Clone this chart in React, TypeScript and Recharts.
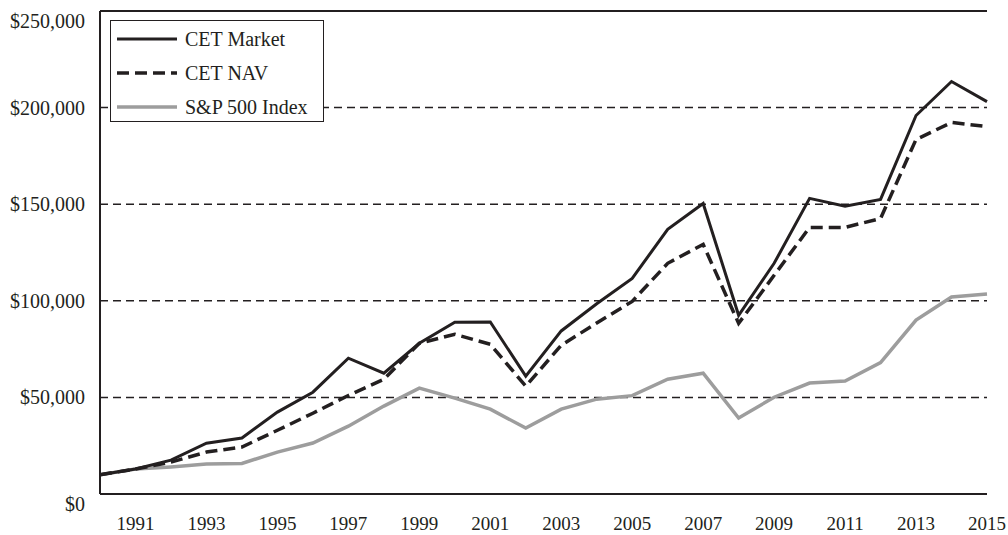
import { LineChart, Line, XAxis, YAxis, ReferenceLine } from "recharts";

const years = [
  1990, 1991, 1992, 1993, 1994, 1995, 1996, 1997, 1998, 1999, 2000, 2001, 2002,
  2003, 2004, 2005, 2006, 2007, 2008, 2009, 2010, 2011, 2012, 2013, 2014, 2015,
];

const cetMarket = [
  10000, 12900, 17500, 26300, 29000, 42400, 52700, 70300, 62500, 78000, 88900,
  89000, 61000, 84400, 98500, 111600, 137000, 150400, 92500, 119400, 153000,
  149000, 152500, 195900, 213500, 203100,
];

const cetNav = [
  10000, 12900, 16500, 21700, 24300, 33000, 41800, 51000, 59400, 78000, 82700,
  77500, 55800, 77000, 88500, 99700, 119400, 129200, 88300, 113200, 138000,
  138000, 142600, 183500, 192300, 190200,
];

const sp500 = [
  10000, 12900, 14000, 15500, 15800, 21700, 26400, 35100, 45500, 54800, 49600,
  43900, 34100, 43900, 49100, 50900, 59400, 62500, 39300, 50100, 57400, 58500,
  68000, 90000, 102000, 103500,
];

const xTicks = [1991, 1993, 1995, 1997, 1999, 2001, 2003, 2005, 2007, 2009, 2011, 2013, 2015];
const yTicks = [0, 50000, 100000, 150000, 200000, 250000];
const gridValues = [50000, 100000, 150000, 200000];

const seriesNames = ["CET Market", "CET NAV", "S&P 500 Index"];

const INK = "#231f20";
const GRAY = "#9d9d9d";
const FONT = "'Liberation Serif', 'Times New Roman', serif";

const data = years.map((y, i) => ({
  year: y,
  market: cetMarket[i],
  nav: cetNav[i],
  sp: sp500[i],
}));

const fmt = (v: number) => "$" + v.toLocaleString("en-US");

function YTick(props: any) {
  const { x, y, payload } = props;
  // end labels sit a little lower than their lines in the original
  const shift = payload.value === 0 || payload.value === 250000 ? 10 : 0;
  return (
    <text
      x={x - 7}
      y={y + shift}
      textAnchor="end"
      dominantBaseline="central"
      fontFamily={FONT}
      fontSize={20}
      fill={INK}
    >
      {fmt(payload.value)}
    </text>
  );
}

function XTick(props: any) {
  const { x, y, payload } = props;
  return (
    <text
      x={x}
      y={y + 21}
      textAnchor="middle"
      dominantBaseline="central"
      fontFamily={FONT}
      fontSize={19}
      fill={INK}
    >
      {payload.value}
    </text>
  );
}

function LegendBox() {
  const rows = [
    { name: seriesNames[0], color: INK, dash: undefined, w: 3 },
    { name: seriesNames[1], color: INK, dash: "12 6", w: 3.5 },
    { name: seriesNames[2], color: GRAY, dash: undefined, w: 3.5 },
  ];
  return (
    <div
      style={{
        position: "absolute",
        left: 110,
        top: 20,
        width: 212,
        height: 100,
        border: `1.5px solid ${INK}`,
        background: "#fff",
      }}
    >
      <svg width={212} height={100} style={{ display: "block" }}>
        {rows.map((r, i) => (
          <g key={r.name}>
            <line
              x1={6}
              x2={66}
              y1={18 + i * 34}
              y2={18 + i * 34}
              stroke={r.color}
              strokeWidth={r.w}
              strokeDasharray={r.dash}
            />
            <text
              x={74}
              y={18 + i * 34}
              dominantBaseline="central"
              fontFamily={FONT}
              fontSize={20}
              fill={INK}
            >
              {r.name}
            </text>
          </g>
        ))}
      </svg>
    </div>
  );
}

export default function App() {
  return (
    <div style={{ position: "absolute", left: 0, top: 0, width: 1008, height: 535, background: "#fff" }}>
      <LineChart
        width={1008}
        height={535}
        data={data}
        margin={{ top: 11, right: 21, bottom: 0, left: 0 }}
      >
        <XAxis
          dataKey="year"
          type="number"
          domain={[1990, 2015]}
          ticks={xTicks}
          height={41}
          tickLine={false}
          axisLine={{ stroke: INK, strokeWidth: 2 }}
          tick={<XTick />}
          interval={0}
        />
        <YAxis
          type="number"
          domain={[0, 250000]}
          ticks={yTicks}
          width={100}
          tickLine={false}
          axisLine={{ stroke: INK, strokeWidth: 2 }}
          tick={<YTick />}
          interval={0}
        />
        {gridValues.map((v) => (
          <ReferenceLine
            key={v}
            y={v}
            stroke={INK}
            strokeWidth={1.5}
            strokeDasharray="8 5"
          />
        ))}
        <ReferenceLine y={250000} stroke={INK} strokeWidth={2} />
        <Line
          dataKey="sp"
          name={seriesNames[2]}
          stroke={GRAY}
          strokeWidth={3.5}
          dot={false}
          strokeLinejoin="miter"
          isAnimationActive={false}
        />
        <Line
          dataKey="nav"
          name={seriesNames[1]}
          stroke={INK}
          strokeWidth={3.5}
          strokeDasharray="12 6"
          dot={false}
          strokeLinejoin="miter"
          isAnimationActive={false}
        />
        <Line
          dataKey="market"
          name={seriesNames[0]}
          stroke={INK}
          strokeWidth={3}
          dot={false}
          strokeLinejoin="miter"
          isAnimationActive={false}
        />
      </LineChart>
      <LegendBox />
    </div>
  );
}
